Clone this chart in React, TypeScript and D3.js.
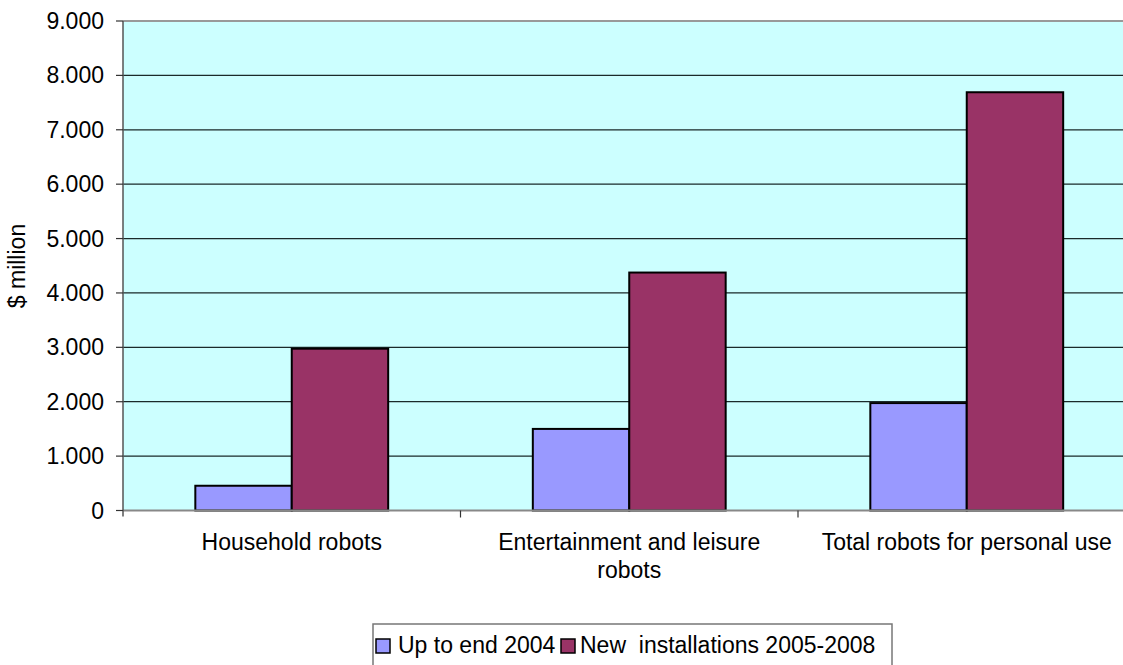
import React from "react";
import * as d3 from "d3";

// Categories (label lines) and series values, $ million
const categories = ["Household robots", "Entertainment and leisure robots", "Total robots for personal use"];
const categoryLines = [["Household robots"], ["Entertainment and leisure", "robots"], ["Total robots for personal use"]];
const seriesNames = ["Up to end 2004", "New  installations 2005-2008"];
const upTo2004 = [455, 1500, 1975];
const new2005to2008 = [2975, 4375, 7690];
const yTicks = [0, 1000, 2000, 3000, 4000, 5000, 6000, 7000, 8000, 9000];
const seriesColors = ["#9999FF", "#993366"];

const W = 1123;
const H = 665;
const plot = { left: 123, top: 21, right: 1135.5, bottom: 510.5 };
const FONT = "'Liberation Sans', Arial, sans-serif";
const FS = 23;

const fmt = (v: number) => d3.format(",")(v).replace(/,/g, ".");

export default function App() {
  const x = d3.scaleBand<string>().domain(categories).range([plot.left, plot.right]).padding(0);
  const y = d3.scaleLinear().domain([0, 9000]).range([plot.bottom, plot.top]);
  const bw = x.bandwidth();
  // gap width 150% of a bar: band = 2 bars + 1.5 bar
  const barW = bw / 3.5;
  const sx = d3.scaleBand<string>().domain(seriesNames).range([0, barW * 2]).padding(0);
  const values = [upTo2004, new2005to2008];

  const boundaries = [...categories.map((c) => x(c)!), plot.right];

  // legend entries: swatch x, text x
  const legendItems = [
    { sw: 376, tx: 398 },
    { sw: 561, tx: 580 },
  ];

  return (
    <svg
      width={W}
      height={H}
      style={{ position: "absolute", left: 0, top: 0, background: "#fff" }}
      fontFamily={FONT}
    >
      {/* plot area */}
      <rect x={plot.left} y={plot.top} width={plot.right - plot.left} height={plot.bottom - plot.top} fill="#CCFFFF" />
      {/* gridlines */}
      {yTicks.slice(1, -1).map((t) => (
        <line key={t} x1={plot.left} x2={plot.right} y1={y(t)} y2={y(t)} stroke="#1a2a2a" strokeWidth={1.2} />
      ))}
      <line x1={plot.left} x2={plot.right} y1={y(9000)} y2={y(9000)} stroke="#999" strokeWidth={2} />

      {/* bars */}
      {values.map((vals, si) =>
        categories.map((c, ci) => {
          const bx = x(c)! + (bw - barW * 2) / 2 + sx(seriesNames[si])!;
          return (
            <rect
              key={`${si}-${ci}`}
              x={bx}
              y={y(vals[ci])}
              width={sx.bandwidth()}
              height={y(0) - y(vals[ci])}
              fill={seriesColors[si]}
              stroke="#000"
              strokeWidth={2}
            />
          );
        })
      )}

      {/* axes */}
      <line x1={plot.left} x2={plot.right} y1={plot.bottom} y2={plot.bottom} stroke="#888" strokeWidth={2} />
      <line x1={plot.left} x2={plot.left} y1={plot.top} y2={plot.bottom + 6} stroke="#555" strokeWidth={1.5} />
      {yTicks.map((t) => (
        <g key={t}>
          <line x1={plot.left - 7} x2={plot.left} y1={y(t)} y2={y(t)} stroke="#333" strokeWidth={1.2} />
          <text x={104} y={y(t)} dy="0.35em" textAnchor="end" fontSize={FS} fill="#000">
            {fmt(t)}
          </text>
        </g>
      ))}
      {boundaries.slice(1).map((bx, i) => (
        <line key={i} x1={bx} x2={bx} y1={plot.bottom} y2={plot.bottom + 7} stroke="#333" strokeWidth={1.2} />
      ))}
      {categories.map((c, ci) => (
        <text key={c} x={x(c)! + bw / 2} y={550} textAnchor="middle" fontSize={FS} fill="#000">
          {categoryLines[ci].map((line, li) => (
            <tspan key={li} x={x(c)! + bw / 2} dy={li === 0 ? 0 : 28}>
              {line}
            </tspan>
          ))}
        </text>
      ))}

      {/* y-axis title */}
      <text transform="translate(25,266) rotate(-90)" textAnchor="middle" fontSize={FS} fill="#000">
        $ million
      </text>

      {/* legend */}
      <rect x={373} y={624} width={519} height={50} fill="#fff" stroke="#777" strokeWidth={1.5} />
      {seriesNames.map((name, i) => (
        <g key={name}>
          <rect x={legendItems[i].sw} y={639} width={14} height={14} fill={seriesColors[i]} stroke="#000" strokeWidth={1.5} />
          <text x={legendItems[i].tx} y={653} fontSize={FS} fill="#000" style={{ whiteSpace: "pre" }}>
            {name}
          </text>
        </g>
      ))}
    </svg>
  );
}
